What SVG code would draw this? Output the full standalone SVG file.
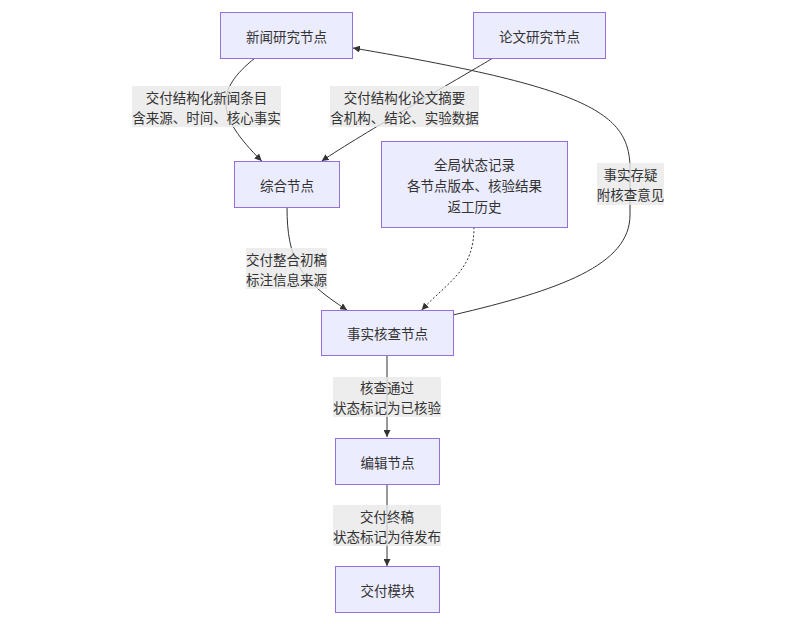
<svg xmlns="http://www.w3.org/2000/svg" width="790" height="624" viewBox="0 0 790 624">
<style>
.node rect{fill:#ECECFF;stroke:#9370DB;stroke-width:1}
text{font-family:"Noto Sans CJK SC","Noto Sans",sans-serif;font-size:13.5px;fill:#333;text-anchor:middle;dominant-baseline:central}
.edge{fill:none;stroke:#333;stroke-width:1}
.dotted{stroke-dasharray:2,2}
.lbl rect{fill:#e8e8e8;fill-opacity:0.8}
</style>
<defs>
<marker id="arrow" viewBox="0 0 10 10" refX="10" refY="5" markerWidth="7" markerHeight="7" markerUnits="userSpaceOnUse" orient="auto">
<path d="M0,0 L10,5 L0,10 z" fill="#333"/>
</marker>
</defs>
<rect width="790" height="624" fill="#ffffff"/>
<g id="connectors">
<path class="edge" d="M255,58 C215,90 215,115 261.7,161" marker-end="url(#arrow)"/>
<path class="edge" d="M493,58 C470,72 360,135 321.7,161" marker-end="url(#arrow)"/>
<path class="edge" d="M287,207 C287,260 300,280 347,310" marker-end="url(#arrow)"/>
<path class="edge dotted" d="M474,227 C474,270 450,280 421.7,310" marker-end="url(#arrow)"/>
<path class="edge" d="M453,315 C560,290 630,265 630,215 L630,175 C632,115 600,90 353,48" marker-end="url(#arrow)"/>
<path class="edge" d="M387,356 L387,437" marker-end="url(#arrow)"/>
<path class="edge" d="M387,484 L387,566" marker-end="url(#arrow)"/>
</g>
<g id="edge-labels">
<g class="lbl"><rect x="132" y="86" width="149" height="41"/><text x="206.5" y="96.7">交付结构化新闻条目</text><text x="206.5" y="116.7">含来源、时间、核心事实</text></g>
<g class="lbl"><rect x="330" y="86" width="149" height="41"/><text x="404.5" y="96.7">交付结构化论文摘要</text><text x="404.5" y="116.7">含机构、结论、实验数据</text></g>
<g class="lbl"><rect x="597" y="163" width="67" height="42"/><text x="630.5" y="174">事实存疑</text><text x="630.5" y="194">附核查意见</text></g>
<g class="lbl"><rect x="246" y="248" width="81" height="41"/><text x="286.5" y="258.5">交付整合初稿</text><text x="286.5" y="278.5">标注信息来源</text></g>
<g class="lbl"><rect x="333" y="377" width="108" height="40"/><text x="387" y="387">核查通过</text><text x="387" y="407">状态标记为已核验</text></g>
<g class="lbl"><rect x="333" y="505" width="108" height="41"/><text x="387" y="515.5">交付终稿</text><text x="387" y="535.5">状态标记为待发布</text></g>
</g>
<g id="news" class="node"><rect x="220.5" y="12.5" width="132" height="46"/><text x="286.5" y="35.5">新闻研究节点</text></g>
<g id="paper" class="node"><rect x="473.5" y="12.5" width="132" height="46"/><text x="539.5" y="35.5">论文研究节点</text></g>
<g id="synth" class="node"><rect x="234.5" y="161.5" width="105" height="46"/><text x="287" y="184.5">综合节点</text></g>
<g id="state" class="node"><rect x="381.5" y="141.5" width="186" height="86"/><text x="474.5" y="163.5">全局状态记录</text><text x="474.5" y="184.5">各节点版本、核验结果</text><text x="474.5" y="205.5">返工历史</text></g>
<g id="factcheck" class="node"><rect x="321.5" y="310.5" width="132" height="45"/><text x="387.5" y="333">事实核查节点</text></g>
<g id="editor" class="node"><rect x="335.5" y="438.5" width="104" height="46"/><text x="387.5" y="461.5">编辑节点</text></g>
<g id="deliver" class="node"><rect x="335.5" y="566.5" width="104" height="46"/><text x="387.5" y="589.5">交付模块</text></g>
</svg>
